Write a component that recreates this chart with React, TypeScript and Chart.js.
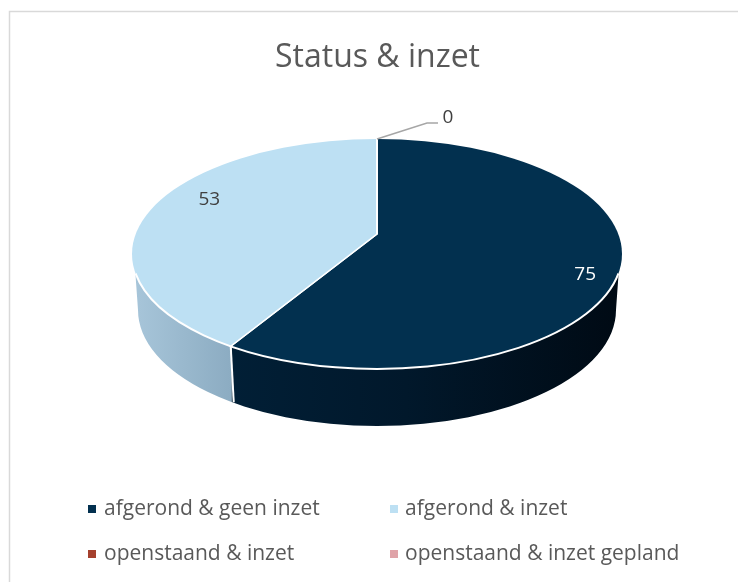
import React, { useEffect, useRef } from "react";
import { Chart, registerables } from "chart.js";

Chart.register(...registerables);

const categories = ["afgerond & geen inzet", "afgerond & inzet", "openstaand & inzet", "openstaand & inzet gepland"];
const values = [75, 53, 0, 0];
const topColors = ["#02304f", "#bde0f3", "#a5402d", "#dfa3a8"];
const titleText = "Status & inzet";
const FONT = '"Open Sans", "Noto Sans", sans-serif';

// geometry of the tilted disc
const TILT = 0.46;
const RIM = { cx: 377, cy: 254, rx: 245, ry: 115 };
const BASE = { cx: 377, cy: 310, rx: 239, ry: 116 };
const WALL_START = 0.165;
const DEPTH_SEAM = 56;

function rimPath(ctx: CanvasRenderingContext2D) {
  ctx.beginPath();
  ctx.ellipse(RIM.cx, RIM.cy, RIM.rx, RIM.ry, 0, 0, Math.PI * 2);
}

function seamPoint(apexX: number, apexY: number, angle: number) {
  // first intersection of the slice edge with the rim ellipse
  const dx = Math.cos(angle);
  const dy = Math.sin(angle) * TILT;
  const ox = apexX - RIM.cx;
  const oy = apexY - RIM.cy;
  const a = (dx * dx) / (RIM.rx * RIM.rx) + (dy * dy) / (RIM.ry * RIM.ry);
  const b = 2 * ((ox * dx) / (RIM.rx * RIM.rx) + (oy * dy) / (RIM.ry * RIM.ry));
  const c = (ox * ox) / (RIM.rx * RIM.rx) + (oy * oy) / (RIM.ry * RIM.ry) - 1;
  const t = (-b + Math.sqrt(b * b - 4 * a * c)) / (2 * a);
  return { x: apexX + dx * t, y: apexY + dy * t };
}

const disc3d = {
  id: "disc3d",
  beforeDatasetsDraw(chart: any) {
    const { ctx } = chart;
    const arc = chart.getDatasetMeta(0).data[0];
    const seam = seamPoint(arc.x, arc.y, arc.endAngle);

    // wall silhouette, starting a little below the rim's widest point
    const wall = () => {
      const wx = RIM.rx * Math.sqrt(1 - WALL_START * WALL_START);
      const wy = RIM.cy + RIM.ry * WALL_START;
      ctx.beginPath();
      ctx.moveTo(RIM.cx - wx, wy);
      ctx.lineTo(BASE.cx - BASE.rx, BASE.cy);
      ctx.ellipse(BASE.cx, BASE.cy, BASE.rx, BASE.ry, 0, Math.PI, 0, true);
      ctx.lineTo(RIM.cx + wx, wy);
      ctx.lineTo(RIM.cx, RIM.cy);
      ctx.closePath();
    };

    const lightGrad = ctx.createLinearGradient(RIM.cx - RIM.rx, 0, seam.x, 0);
    lightGrad.addColorStop(0, "#a8c6da");
    lightGrad.addColorStop(1, "#8cacc2");
    const darkGrad = ctx.createLinearGradient(seam.x, 0, RIM.cx + RIM.rx, 0);
    darkGrad.addColorStop(0, "#011f36");
    darkGrad.addColorStop(0.45, "#01182b");
    darkGrad.addColorStop(1, "#000a14");

    ctx.save();
    ctx.beginPath();
    ctx.rect(0, 0, seam.x + 1, chart.height);
    ctx.clip();
    wall();
    ctx.fillStyle = lightGrad;
    ctx.fill();
    ctx.restore();

    ctx.save();
    ctx.beginPath();
    ctx.rect(seam.x + 1, 0, chart.width, chart.height);
    ctx.clip();
    wall();
    ctx.fillStyle = darkGrad;
    ctx.fill();
    ctx.restore();

    // seam between the two walls
    ctx.save();
    ctx.strokeStyle = "#ffffff";
    ctx.lineWidth = 2;
    ctx.beginPath();
    ctx.moveTo(seam.x, seam.y);
    ctx.lineTo(seam.x + 3, seam.y + DEPTH_SEAM);
    ctx.stroke();
    ctx.restore();

    // the library's arcs are drawn tilted and cut to the rim
    ctx.save();
    rimPath(ctx);
    ctx.clip();
    ctx.translate(arc.x, arc.y);
    ctx.scale(1, TILT);
    ctx.translate(-arc.x, -arc.y);
  },
  afterDatasetsDraw(chart: any) {
    const { ctx } = chart;
    ctx.restore();

    // white lower rim
    ctx.save();
    ctx.strokeStyle = "#ffffff";
    ctx.lineWidth = 2;
    ctx.beginPath();
    ctx.ellipse(RIM.cx, RIM.cy, RIM.rx, RIM.ry, 0.0, 0.17, Math.PI - 0.17);
    ctx.stroke();
    ctx.restore();
  },
};

const labelOffsets = [
  { r: 216, dy: 14, color: "#ffffff" },
  { r: 174, dy: -13, color: "#404040" },
];
const legendColumns = [
  { swatch: 88, text: 104 },
  { swatch: 390, text: 405 },
];
const legendRows = [508, 553];

const annotations = {
  id: "annotations",
  afterDraw(chart: any) {
    const { ctx } = chart;
    const meta = chart.getDatasetMeta(0);
    ctx.save();

    // frame: only the top and left edges are visible
    ctx.strokeStyle = "#d9d9d9";
    ctx.lineWidth = 1.5;
    ctx.beginPath();
    ctx.moveTo(9.5, 582);
    ctx.lineTo(9.5, 11.5);
    ctx.lineTo(738, 11.5);
    ctx.stroke();

    // title
    ctx.fillStyle = "#595959";
    ctx.font = `32px ${FONT}`;
    ctx.textAlign = "center";
    ctx.textBaseline = "middle";
    ctx.fillText(titleText, 377.5, 58);

    // value labels
    ctx.font = `19px ${FONT}`;
    labelOffsets.forEach((o, i) => {
      const a = meta.data[i];
      const mid = (a.startAngle + a.endAngle) / 2;
      const x = a.x + Math.cos(mid) * o.r;
      const y = a.y + Math.sin(mid) * o.r * TILT + o.dy;
      ctx.fillStyle = o.color;
      ctx.fillText(String(values[i]), x, y);
    });

    // leader for the empty slice
    const zx = meta.data[2].x;
    const zy = RIM.cy - RIM.ry;
    ctx.strokeStyle = "#a6a6a6";
    ctx.lineWidth = 1.5;
    ctx.beginPath();
    ctx.moveTo(zx, zy);
    ctx.lineTo(zx + 50, zy - 16);
    ctx.lineTo(zx + 61, zy - 16);
    ctx.stroke();
    ctx.fillStyle = "#404040";
    ctx.fillText(String(values[2]), zx + 71, zy - 21);

    // legend
    ctx.font = `21px ${FONT}`;
    ctx.textAlign = "left";
    categories.forEach((label, i) => {
      const col = legendColumns[i % 2];
      const ly = legendRows[Math.floor(i / 2)];
      ctx.fillStyle = topColors[i];
      ctx.fillRect(col.swatch, ly - 3, 8, 8);
      ctx.fillStyle = "#595959";
      ctx.fillText(label, col.text, ly + 1);
    });
    ctx.restore();
  },
};

export default function App() {
  const ref = useRef<HTMLCanvasElement>(null);
  useEffect(() => {
    document.body.style.margin = "0";
    const chart = new Chart(ref.current!, {
      type: "pie",
      data: {
        labels: categories,
        datasets: [
          {
            data: values,
            backgroundColor: topColors,
            borderColor: "#ffffff",
            borderWidth: 2,
            clip: false,
          } as any,
        ],
      },
      options: {
        responsive: false,
        animation: false,
        radius: 320,
        layout: { padding: { left: 16, bottom: 114 } },
        plugins: { legend: { display: false }, tooltip: { enabled: false }, title: { display: false } },
      } as any,
      plugins: [disc3d, annotations],
    });
    return () => chart.destroy();
  }, []);
  return (
    <div style={{ width: 738, height: 582, background: "#fff" }}>
      <canvas ref={ref} width={738} height={582} style={{ display: "block" }} />
    </div>
  );
}
